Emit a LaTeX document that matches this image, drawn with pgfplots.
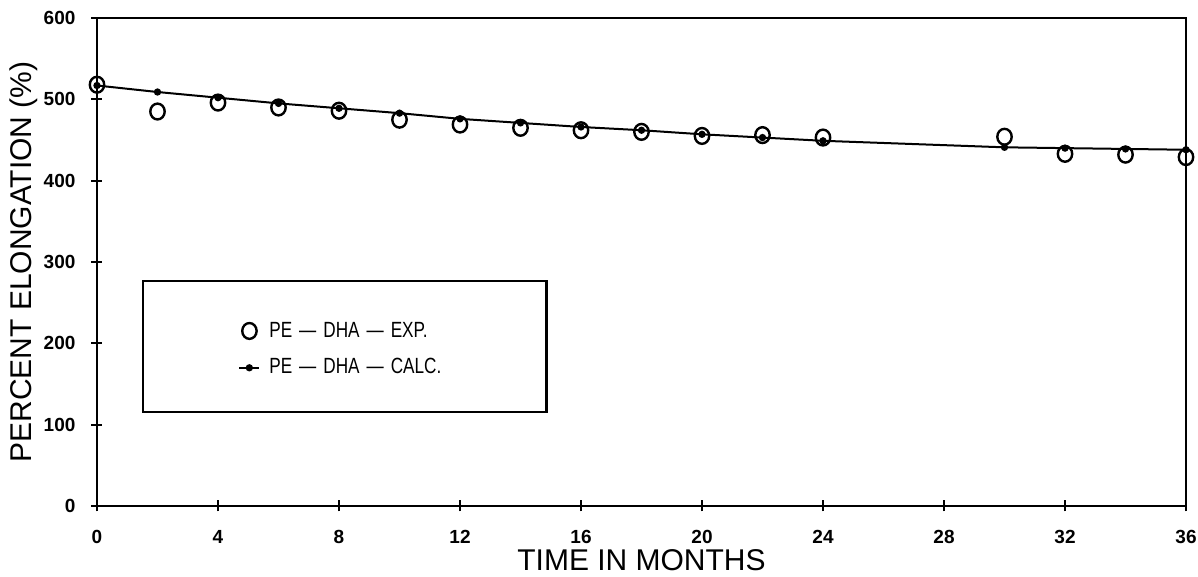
\documentclass[border=0pt]{standalone}
\usepackage{fontspec}
\setmainfont{Liberation Sans}
\newfontfamily\legfont[FakeStretch=0.78]{Liberation Sans}
\usepackage{pgfplots}
\pgfplotsset{compat=1.18}
\pgfplotsset{shortleg/.style={legend image code/.code={\draw[##1, mark repeat=2, mark phase=2]
    plot coordinates {(3.5pt,0pt) (8.5pt,0pt) (13.5pt,0pt)};}}}
\newcommand\dsh{\hspace{3.5pt}—\hspace{3.5pt}}

\begin{document}
\begin{tikzpicture}
\begin{axis}[
  scale only axis, width=544.5pt, height=244pt,
  xmin=0, xmax=36, ymin=0, ymax=600,
  xtick={0,4,...,36}, ytick={0,100,...,600},
  axis line style={line width=1.2pt},
  tick style={line width=1.1pt, black},
  tick align=center, major tick length=5.5pt,
  xtick pos=bottom, ytick pos=left,
  /pgf/number format/assume math mode=true,
  tick label style={font=\bfseries\fontsize{9.5}{11}\selectfont},
  xticklabel style={anchor=center, yshift=-12.5pt},
  yticklabel style={anchor=east, xshift=-4.5pt},
  xlabel={TIME IN MONTHS},
  ylabel={PERCENT ELONGATION (\%)},
  label style={font=\fontsize{15}{17}\selectfont},
  xlabel style={at={(axis description cs:0.5,0)}, anchor=base, yshift=-32.5pt},
  ylabel style={at={(axis description cs:-0.0597,0.5)}, anchor=base},
  legend style={at={(axis cs:4.66,192.5)}, anchor=west, draw=none, fill=none,
    inner sep=0pt, font=\legfont\fontsize{11}{13}\selectfont, row sep=9.3pt,
    nodes={inner sep=0pt},
    /tikz/every odd column/.append style={column sep=4.5pt}},
  legend cell align=left,
  clip=false,
]
\addplot[only marks, mark=o, mark size=3.6pt, mark options={line width=1.2pt, yscale=1.1}] coordinates {
  (0,518) (2,485) (4,496) (6,490) (8,486) (10,475) (12,469) (14,465) (16,462)
  (18,460) (20,455) (22,456) (24,453) (30,454) (32,433) (34,432) (36,429) };
\addlegendentry{PE\dsh DHA\dsh EXP.}
\addplot[line width=1pt, mark=*, mark size=1.3pt, shortleg] coordinates {
  (0,517) (2,509) (4,502) (6,495) (8,489) (10,483) (12,476) (14,471) (16,466)
  (18,462) (20,457) (22,453) (24,449) (30,441) (32,440) (34,439) (36,438) };
\addlegendentry{PE\dsh DHA\dsh CALC.}
\draw[line width=1.1pt] (axis cs:1.52,276.7) rectangle (axis cs:14.86,115.6);
\end{axis}
\pgfresetboundingbox
\path ([shift={(-48.5pt,-35.5pt)}]current axis.south west)
  rectangle ([shift={(6pt,9pt)}]current axis.north east);
\end{tikzpicture}
\end{document}
